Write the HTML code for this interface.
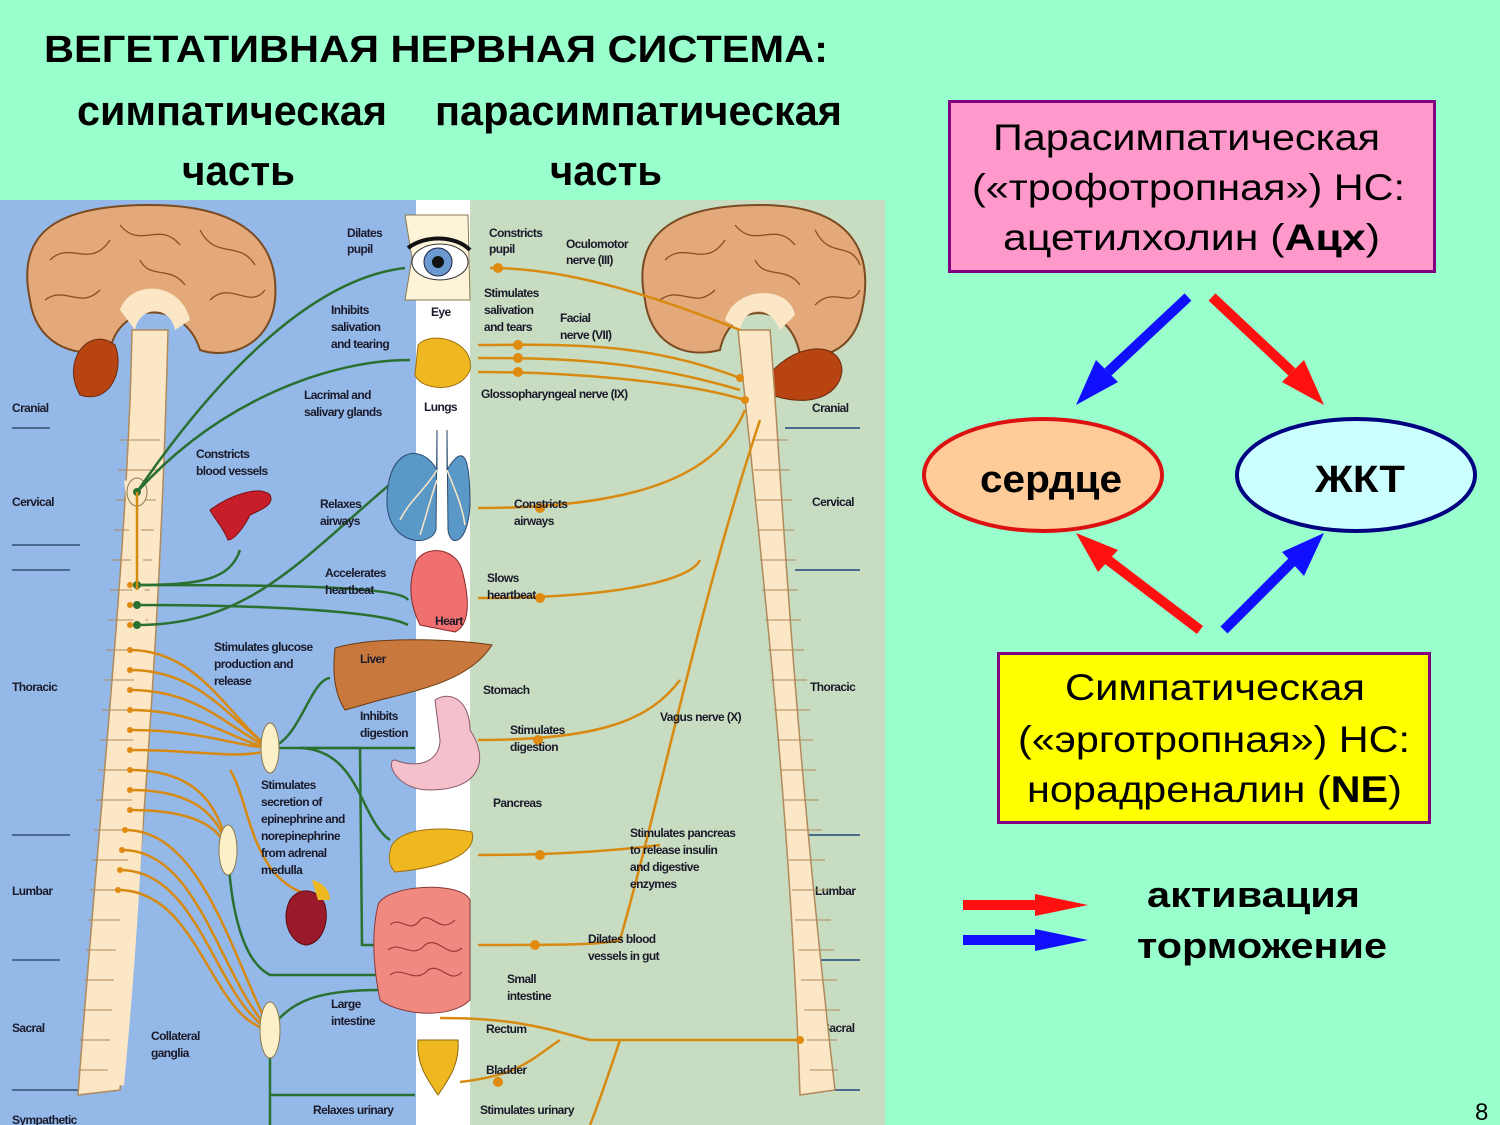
<!DOCTYPE html>
<html><head><meta charset="utf-8"><style>
html,body{margin:0;padding:0;background:#99ffcc;}
svg{display:block}
.t{font-family:"Liberation Sans",Arial,sans-serif;}
.s{font-family:"Liberation Sans",Arial,sans-serif;font-size:12px;font-weight:bold;fill:#1a1a2a;letter-spacing:-0.6px}
</style></head><body>
<svg width="1500" height="1125" viewBox="0 0 1500 1125" xmlns="http://www.w3.org/2000/svg">
<rect width="1500" height="1125" fill="#99ffcc"/>
<g class="t" font-weight="bold" fill="#000">
<text x="44" y="62" font-size="38" textLength="784" lengthAdjust="spacingAndGlyphs">ВЕГЕТАТИВНАЯ НЕРВНАЯ СИСТЕМА:</text>
<text x="77" y="125" font-size="42" textLength="310" lengthAdjust="spacingAndGlyphs">симпатическая</text>
<text x="435" y="125" font-size="42" textLength="407" lengthAdjust="spacingAndGlyphs">парасимпатическая</text>
<text x="182" y="185" font-size="42" textLength="113" lengthAdjust="spacingAndGlyphs">часть</text>
<text x="550" y="185" font-size="42" textLength="112" lengthAdjust="spacingAndGlyphs">часть</text>
</g>
<rect x="0" y="200" width="416" height="925" fill="#94b8e8"/>
<rect x="416" y="200" width="54" height="925" fill="#ffffff"/>
<rect x="470" y="200" width="415" height="925" fill="#c8dcc2"/>
<g stroke="#4a6a90" stroke-width="2">
<line x1="12" y1="428" x2="50" y2="428"/><line x1="12" y1="545" x2="80" y2="545"/><line x1="12" y1="570" x2="70" y2="570"/>
<line x1="12" y1="835" x2="70" y2="835"/><line x1="12" y1="960" x2="60" y2="960"/><line x1="12" y1="1090" x2="80" y2="1090"/>
<line x1="785" y1="428" x2="860" y2="428"/><line x1="795" y1="570" x2="860" y2="570"/><line x1="805" y1="835" x2="860" y2="835"/><line x1="810" y1="960" x2="860" y2="960"/><line x1="810" y1="1090" x2="860" y2="1090"/>
</g>
<g class="s" font-size="12">
<text x="12" y="412">Cranial</text><text x="12" y="506">Cervical</text><text x="12" y="691">Thoracic</text><text x="12" y="895">Lumbar</text><text x="12" y="1032">Sacral</text>
<text x="812" y="412">Cranial</text><text x="812" y="506">Cervical</text><text x="810" y="691">Thoracic</text><text x="815" y="895">Lumbar</text><text x="822" y="1032">Sacral</text>
</g>
<g stroke="#7a4a20" stroke-width="2">
<path d="M30,300 C15,230 60,205 150,205 C240,205 280,240 275,300 C270,345 230,360 200,350 C185,300 120,300 110,350 C70,360 35,340 30,300Z" fill="#e3a97a"/>
<path d="M645,300 C630,230 680,205 760,205 C850,205 875,250 862,310 C855,345 830,360 800,355 C790,300 730,300 720,350 C680,360 650,340 645,300Z" fill="#e3a97a"/>
</g>
<g stroke="#8a5020" stroke-width="1.3" fill="none">
<path d="M50,260 C70,240 90,270 110,240 M120,225 C140,250 160,220 180,245 M200,230 C215,260 240,240 255,265 M45,300 C65,285 80,310 100,290 M210,300 C230,280 250,310 265,290 M140,260 C150,280 170,265 185,285"/>
<path d="M665,260 C685,240 705,270 725,240 M735,225 C755,250 775,220 795,245 M815,230 C830,260 850,240 860,265 M660,300 C680,285 695,310 715,290 M815,305 C835,285 850,310 860,290 M755,260 C765,280 785,265 800,285"/>
</g>
<path d="M80,395 C60,360 90,325 115,345 C125,370 110,405 80,395Z" fill="#b84412" stroke="#6a2a10"/>
<path d="M760,390 C780,345 840,335 842,370 C840,400 800,410 760,390Z" fill="#b84412" stroke="#6a2a10"/>
<path d="M120,310 C130,280 180,280 190,320 L175,330 C170,305 140,305 135,330 Z" fill="#fbe7c6"/>
<path d="M725,320 C735,285 790,285 795,315 L780,330 C770,305 745,305 740,330Z" fill="#fbe7c6"/>
<path d="M132,330 L168,330 C165,450 158,700 120,1090 L78,1095 C100,800 128,550 132,330Z" fill="#fbe7c6" stroke="#b08a5a" stroke-width="1.5"/>
<path d="M738,330 L770,330 C780,450 790,700 835,1090 L800,1095 C790,800 760,550 738,330Z" fill="#fbe7c6" stroke="#b08a5a" stroke-width="1.5"/>
<g stroke="#b08a5a" stroke-width="1">
<path d="M120,440h40M118,470h40M116,500h40M114,530h40M112,560h40M110,590h40M108,620h40M106,650h40M104,680h40M102,710h40M100,740h40M98,770h40M96,800h38M94,830h38M92,860h36M90,890h34M88,920h32M86,950h30M84,980h30M82,1010h30M80,1040h30M78,1070h30"/>
<path d="M752,440h36M754,470h36M756,500h36M758,530h36M760,560h36M762,590h36M765,620h36M768,650h36M771,680h36M774,710h36M777,740h36M780,770h36M783,800h36M786,830h36M789,860h36M792,890h36M795,920h36M798,950h36M801,980h36M804,1010h36M807,1040h30M810,1070h28"/>
</g>
<path d="M130,480 C145,600 145,800 118,1085" stroke="#fbe7c6" stroke-width="12" fill="none"/>
<ellipse cx="137" cy="492" rx="10" ry="14" fill="#fbe7c6" stroke="#8a7a50"/>
<g stroke="#2a7030" stroke-width="2.5" fill="none">
<path d="M137,492 C200,400 300,280 405,268"/>
<path d="M137,492 C220,400 330,360 410,360"/>
<path d="M137,585 C200,585 230,580 240,550"/>
<path d="M137,585 C250,585 400,585 408,600 M137,605 C250,605 380,610 408,625"/>
<path d="M137,625 C250,625 300,560 395,480"/>
<path d="M270,748 C300,740 310,680 330,678"/>
<path d="M270,748 L415,748"/>
<path d="M300,748 C360,750 360,820 390,840"/>
<path d="M300,748 L360,748 L362,945 L380,945"/>
<path d="M228,850 C230,900 240,960 270,975 L380,975"/>
<path d="M270,1030 C290,1000 320,990 380,990"/>
<path d="M270,1030 L270,1125 M270,1095 L415,1095"/>
</g>
<g fill="#2a7030"><circle cx="137" cy="585" r="4"/><circle cx="137" cy="605" r="4"/><circle cx="137" cy="625" r="4"/><circle cx="137" cy="492" r="4"/></g>
<g stroke="#d88a10" stroke-width="2.5" fill="none">
<path d="M130,650 C200,650 230,720 270,748 M130,670 C200,670 230,720 270,748 M130,690 C200,690 230,730 270,748 M130,710 C200,710 230,740 270,748 M130,730 C200,730 230,745 270,748 M130,750 C200,750 240,760 270,750"/>
<path d="M130,770 C200,770 220,810 228,850 M130,790 C200,790 220,820 228,850 M130,810 C200,810 220,830 228,850"/>
<path d="M230,770 C250,800 250,880 310,895"/>
<path d="M125,830 C200,830 230,950 270,1030 M122,850 C200,850 220,980 270,1030 M120,870 C200,870 215,1000 270,1030 M118,890 C200,890 210,1020 270,1030"/>
<path d="M137,492 L137,590"/>
<path d="M490,268 C560,268 640,290 740,330"/>
<path d="M478,345 C560,345 640,340 740,378 M478,358 C560,358 640,360 740,390 M478,372 C560,372 680,380 745,400"/>
<path d="M478,508 C650,508 720,470 745,410"/>
<path d="M478,598 C620,598 690,580 700,560 M760,420 C700,600 660,800 620,940 C600,945 560,945 478,945"/>
<path d="M478,740 C600,740 650,720 680,680 M478,855 C560,855 620,850 660,845"/>
<path d="M440,1018 C520,1018 550,1030 590,1040 L800,1040 M560,1040 C530,1060 520,1075 460,1082 M620,1040 C610,1070 600,1100 590,1125"/>
</g>
<g fill="#e08a10">
<circle cx="498" cy="268" r="5"/><circle cx="518" cy="345" r="5"/><circle cx="518" cy="358" r="5"/><circle cx="518" cy="372" r="5"/><circle cx="540" cy="508" r="5"/><circle cx="540" cy="598" r="5"/><circle cx="538" cy="740" r="5"/><circle cx="540" cy="855" r="5"/><circle cx="535" cy="945" r="5"/><circle cx="498" cy="1082" r="5"/>
<circle cx="130" cy="585" r="3"/><circle cx="130" cy="605" r="3"/><circle cx="130" cy="625" r="3"/><circle cx="130" cy="650" r="3"/><circle cx="130" cy="670" r="3"/><circle cx="130" cy="690" r="3"/><circle cx="130" cy="710" r="3"/><circle cx="130" cy="730" r="3"/><circle cx="130" cy="750" r="3"/><circle cx="130" cy="770" r="3"/><circle cx="130" cy="790" r="3"/><circle cx="130" cy="810" r="3"/><circle cx="125" cy="830" r="3"/><circle cx="122" cy="850" r="3"/><circle cx="120" cy="870" r="3"/><circle cx="118" cy="890" r="3"/>
<circle cx="740" cy="378" r="4"/><circle cx="745" cy="400" r="4"/><circle cx="800" cy="1040" r="4"/>
</g>
<g fill="#fbf0c8" stroke="#8a7a50"><ellipse cx="270" cy="748" rx="9" ry="25"/><ellipse cx="228" cy="850" rx="9" ry="25"/><ellipse cx="270" cy="1030" rx="10" ry="28"/></g>
<path d="M405,215 L468,215 L470,300 L405,300 L412,258Z" fill="#fdf3d8" stroke="#8a7a50"/>
<ellipse cx="440" cy="262" rx="28" ry="18" fill="#fff" stroke="#333"/>
<circle cx="438" cy="262" r="14" fill="#6a9ad0" stroke="#224"/><circle cx="438" cy="262" r="6" fill="#111"/>
<path d="M408,248 C425,235 455,235 470,250" stroke="#111" stroke-width="4" fill="none"/>
<path d="M418,345 C430,330 475,340 470,370 C460,395 420,390 415,375Z" fill="#f0b820" stroke="#a07010"/>
<path d="M437,430 L437,470 C420,440 385,450 387,505 C390,545 430,548 436,530 Z" fill="#5a98c8" stroke="#2a4a70"/>
<path d="M447,430 L447,470 C465,440 470,460 470,505 C468,545 450,548 448,530 Z" fill="#5a98c8" stroke="#2a4a70"/>
<g stroke="#fbe7c6" stroke-width="1.5" fill="none"><path d="M437,470 C425,490 410,500 400,520 M437,480 C430,500 425,520 420,535 M447,470 C455,490 462,505 465,525"/></g>
<path d="M415,565 C420,545 455,545 462,570 C470,600 470,625 455,632 L420,625 C410,605 408,585 415,565Z" fill="#f07070" stroke="#8a2a2a"/>
<path d="M335,648 C380,635 460,640 492,645 C470,680 420,690 380,700 L345,710 C332,690 333,665 335,648Z" fill="#c8783c" stroke="#6a3a10"/>
<path d="M435,700 C450,690 470,700 470,730 C490,760 480,790 430,790 C395,790 385,760 395,760 C420,770 440,760 440,740Z" fill="#f4c0cc" stroke="#8a5a6a"/>
<path d="M392,845 C405,825 450,828 472,832 C478,855 440,868 395,872 C388,865 388,855 392,845Z" fill="#f0b820" stroke="#a07010"/>
<path d="M378,905 C385,885 460,880 470,900 L470,1000 C450,1020 400,1015 380,1000 C372,960 372,930 378,905Z" fill="#f08a80" stroke="#8a3a3a"/>
<g stroke="#9a3a3a" stroke-width="1.2" fill="none"><path d="M390,925 C400,915 410,935 420,920 C430,910 440,935 455,920 M388,950 C400,940 412,960 425,945 C438,935 448,960 462,948 M390,975 C402,965 415,985 428,970 C440,962 450,985 462,972"/></g>
<path d="M418,1040 L458,1040 C460,1065 448,1080 438,1095 C428,1080 416,1065 418,1040Z" fill="#f0b820" stroke="#8a6a10"/>
<path d="M210,510 C230,495 260,485 270,495 C275,505 260,510 250,515 C245,525 235,540 228,540 C222,525 215,520 210,510Z" fill="#c81e2a" stroke="#7a1010"/>
<path d="M290,900 C300,885 320,890 325,905 C330,925 320,945 305,945 C290,942 280,920 290,900Z" fill="#9a1a2a" stroke="#5a0a10"/>
<path d="M312,880 C322,882 330,890 330,900 L318,900Z" fill="#f0b820"/>
<g class="s">
<text x="347" y="237">Dilates</text><text x="347" y="253">pupil</text>
<text x="489" y="237">Constricts</text><text x="489" y="253">pupil</text>
<text x="566" y="248">Oculomotor</text><text x="566" y="264">nerve (III)</text>
<text x="431" y="316">Eye</text>
<text x="331" y="314">Inhibits</text><text x="331" y="331">salivation</text><text x="331" y="348">and tearing</text>
<text x="484" y="297">Stimulates</text><text x="484" y="314">salivation</text><text x="484" y="331">and tears</text>
<text x="560" y="322">Facial</text><text x="560" y="339">nerve (VII)</text>
<text x="304" y="399">Lacrimal and</text><text x="304" y="416">salivary glands</text>
<text x="424" y="411">Lungs</text>
<text x="481" y="398">Glossopharyngeal nerve (IX)</text>
<text x="196" y="458">Constricts</text><text x="196" y="475">blood vessels</text>
<text x="320" y="508">Relaxes</text><text x="320" y="525">airways</text>
<text x="514" y="508">Constricts</text><text x="514" y="525">airways</text>
<text x="325" y="577">Accelerates</text><text x="325" y="594">heartbeat</text>
<text x="487" y="582">Slows</text><text x="487" y="599">heartbeat</text>
<text x="435" y="625">Heart</text>
<text x="214" y="651">Stimulates glucose</text><text x="214" y="668">production and</text><text x="214" y="685">release</text>
<text x="360" y="663">Liver</text>
<text x="483" y="694">Stomach</text>
<text x="660" y="721">Vagus nerve (X)</text>
<text x="360" y="720">Inhibits</text><text x="360" y="737">digestion</text>
<text x="510" y="734">Stimulates</text><text x="510" y="751">digestion</text>
<text x="261" y="789">Stimulates</text><text x="261" y="806">secretion of</text><text x="261" y="823">epinephrine and</text><text x="261" y="840">norepinephrine</text><text x="261" y="857">from adrenal</text><text x="261" y="874">medulla</text>
<text x="493" y="807">Pancreas</text>
<text x="630" y="837">Stimulates pancreas</text><text x="630" y="854">to release insulin</text><text x="630" y="871">and digestive</text><text x="630" y="888">enzymes</text>
<text x="588" y="943">Dilates blood</text><text x="588" y="960">vessels in gut</text>
<text x="507" y="983">Small</text><text x="507" y="1000">intestine</text>
<text x="331" y="1008">Large</text><text x="331" y="1025">intestine</text>
<text x="486" y="1033">Rectum</text>
<text x="151" y="1040">Collateral</text><text x="151" y="1057">ganglia</text>
<text x="486" y="1074">Bladder</text>
<text x="313" y="1114">Relaxes urinary</text>
<text x="480" y="1114">Stimulates urinary</text>
<text x="12" y="1124">Sympathetic</text>
</g>
<rect x="949.5" y="101.5" width="485" height="170" fill="#ff99cc" stroke="#800080" stroke-width="3"/>
<g class="t" font-size="37" fill="#000">
<text x="993" y="150" textLength="387" lengthAdjust="spacingAndGlyphs">Парасимпатическая</text>
<text x="972" y="200" textLength="433" lengthAdjust="spacingAndGlyphs">(«трофотропная») НС:</text>
<text x="1003" y="250" textLength="377" lengthAdjust="spacingAndGlyphs">ацетилхолин  (<tspan font-weight="bold">Ацх</tspan>)</text>
</g>
<rect x="998.5" y="653.5" width="431" height="169" fill="#ffff00" stroke="#800080" stroke-width="3"/>
<g class="t" font-size="37" fill="#000">
<text x="1065" y="700" textLength="300" lengthAdjust="spacingAndGlyphs">Симпатическая</text>
<text x="1018" y="752" textLength="392" lengthAdjust="spacingAndGlyphs">(«эрготропная») НС:</text>
<text x="1027" y="802" textLength="375" lengthAdjust="spacingAndGlyphs">норадреналин (<tspan font-weight="bold">NE</tspan>)</text>
</g>
<ellipse cx="1043" cy="475" rx="119" ry="56" fill="#ffcc99" stroke="#dd1111" stroke-width="4"/>
<ellipse cx="1356" cy="475" rx="119" ry="56" fill="#ccffff" stroke="#000080" stroke-width="4"/>
<g class="t" font-weight="bold" fill="#000">
<text x="980" y="492" font-size="38" textLength="142" lengthAdjust="spacingAndGlyphs">сердце</text>
<text x="1315" y="492" font-size="38" textLength="90" lengthAdjust="spacingAndGlyphs">ЖКТ</text>
<text x="1147" y="907" font-size="36" textLength="213" lengthAdjust="spacingAndGlyphs">активация</text>
<text x="1137" y="958" font-size="36" textLength="250" lengthAdjust="spacingAndGlyphs">торможение</text>
</g>
<g stroke-width="10" fill="none">
<line x1="1188" y1="297" x2="1108" y2="372" stroke="#1010ff"/>
<line x1="1212" y1="297" x2="1292" y2="372" stroke="#ff1010"/>
<line x1="1200" y1="630" x2="1108" y2="560" stroke="#ff1010"/>
<line x1="1224" y1="630" x2="1292" y2="562" stroke="#1010ff"/>
<line x1="963" y1="905" x2="1040" y2="905" stroke="#ff1010"/>
<line x1="963" y1="940" x2="1040" y2="940" stroke="#1010ff"/>
</g>
<polygon points="1076,405 1096,360 1118,382" fill="#1010ff"/>
<polygon points="1324,405 1282,382 1304,360" fill="#ff1010"/>
<polygon points="1076,533 1118,550 1098,572" fill="#ff1010"/>
<polygon points="1324,533 1304,576 1282,552" fill="#1010ff"/>
<polygon points="1035,894 1088,905 1035,916" fill="#ff1010"/>
<polygon points="1035,929 1088,940 1035,951" fill="#1010ff"/>
<text class="t" x="1475" y="1120" font-size="24" fill="#000">8</text>
</svg>
</body></html>
